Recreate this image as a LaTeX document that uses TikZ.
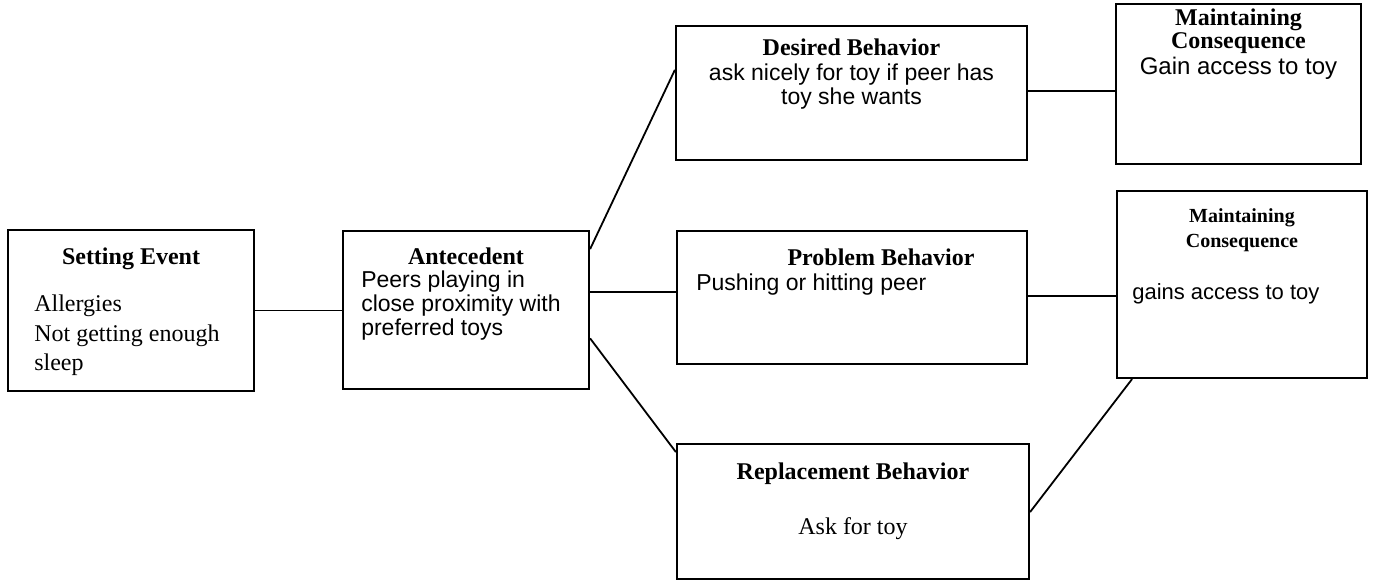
\documentclass[tikz,border=0pt]{standalone}
\usepackage{fontspec}
\setmainfont{Liberation Serif}
\newfontfamily\arialfont{Liberation Sans}
\usetikzlibrary{calc,positioning}

\tikzset{
  box/.style={draw, line width=1.1pt, inner sep=0pt},
  link/.style={line width=0.9pt},
  head/.style={inner sep=0pt, anchor=base, align=center, font=\fontsize{12}{11.5}\selectfont\bfseries},
  body/.style={inner sep=0pt, anchor=base west, align=left, font=\fontsize{12}{14.75}\selectfont},
  arial/.style={inner sep=0pt, anchor=base, align=center, font=\arialfont\fontsize{11.5}{12}\selectfont},
}

\begin{document}
\begin{tikzpicture}[x=0.5pt, y=-0.5pt]
  \useasboundingbox (0,0) rectangle (1373,581);

  % boxes
  \node[box, minimum width=123pt, minimum height=80.5pt] (se) at (131,310.5) {};
  \node[box, minimum width=123pt, minimum height=79pt] (ant) at (466,310) {};
  \node[box, minimum width=175.5pt, minimum height=67pt] (des) at (851.5,93) {};
  \node[box, minimum width=122.5pt, minimum height=80pt] (mc1) at (1238.5,84) {};
  \node[box, minimum width=175pt, minimum height=66.5pt] (prob) at (852,297.5) {};
  \node[box, minimum width=125pt, minimum height=93.5pt] (mc2) at (1242,284.5) {};
  \node[box, minimum width=176pt, minimum height=67.5pt] (rep) at (853,511.5) {};

  % texts (base of a multi-line node = its last line)
  \node[head] (seh) at ($(se.north)+(0,36)$) {Setting Event};
  \node[body] (setxt) at ($(se.north west)+(27,142)$) {Allergies\\Not getting enough\\sleep};

  \node[head] (anth) at ($(ant.north)+(0,35)$) {Antecedent};
  \node[arial, anchor=base west, align=left] (anttxt) at ($(ant.north west)+(19,106)$)
    {Peers playing in\\close proximity with\\preferred toys};

  \node[head] (desh) at ($(des.north)+(0,31)$) {Desired Behavior};
  \node[arial] (destxt) at ($(des.north)+(0,80)$) {ask nicely for toy if peer has\\toy she wants};

  \node[head] (mc1h) at ($(mc1.north)+(0,46)$) {Maintaining\\Consequence};
  \node[arial, font=\arialfont\fontsize{12}{12}\selectfont] (mc1txt) at ($(mc1.north)+(0,72)$) {Gain access to toy};

  \node[head] (probh) at ($(prob.north)+(29,36)$) {Problem Behavior};
  \node[arial, anchor=base west] (probtxt) at ($(prob.north west)+(20,61)$) {Pushing or hitting peer};

  \node[head, font=\fontsize{10}{12.5}\selectfont\bfseries] (mc2h) at ($(mc2.north)+(0,58)$) {Maintaining\\Consequence};
  \node[arial, anchor=base west, font=\arialfont\fontsize{11}{12}\selectfont] (mc2txt) at ($(mc2.north west)+(16,110)$) {gains access to toy};

  \node[head] (reph) at ($(rep.north)+(0,37)$) {Replacement Behavior};
  \node[head, font=\fontsize{12}{14}\selectfont] (reptxt) at ($(rep.north)+(0,92)$) {Ask for toy};

  % connectors
  \draw[link] (se.east) -- (se.east -| ant.west);
  \coordinate (a1) at ($(ant.north east)!0.12!(ant.south east)$);
  \coordinate (a2) at ($(ant.north east)!0.386!(ant.south east)$);
  \coordinate (a3) at ($(ant.north east)!0.677!(ant.south east)$);
  \draw[link] (a1) -- ($(des.north west)!0.33!(des.south west)$);
  \draw[link] (a2) -- (a2 -| prob.west);
  \draw[link] (a3) -- ($(rep.north west)!0.067!(rep.south west)$);

  \coordinate (d1) at ($(des.north east)!0.485!(des.south east)$);
  \coordinate (p1) at ($(prob.north east)!0.49!(prob.south east)$);
  \draw[link] (d1) -- (d1 -| mc1.west);
  \draw[link] (p1) -- (p1 -| mc2.west);
  \draw[link] ($(rep.north east)!0.504!(rep.south east)$) -- ($(mc2.south west)!0.064!(mc2.south east)$);
\end{tikzpicture}
\end{document}
